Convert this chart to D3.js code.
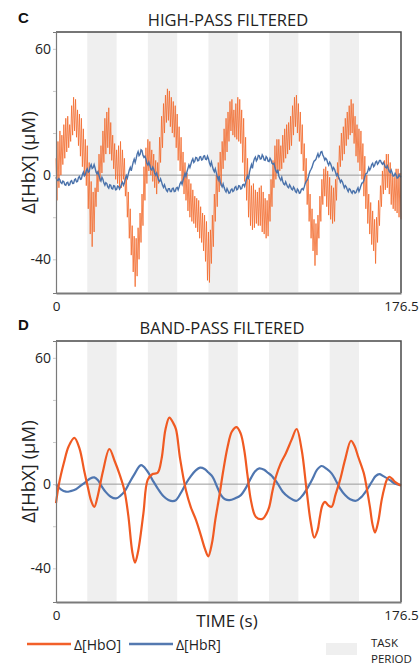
<!DOCTYPE html>
<html><head><meta charset="utf-8">
<script src="https://cdn.jsdelivr.net/npm/d3@7"></script>
<style>
html,body{margin:0;padding:0;background:#fff;}
svg{display:block;font-family:"Open Sans",sans-serif;}
</style></head>
<body><svg id="chart" width="419" height="666"></svg>
<script>
// ---- data ----
const xMax = 176.5;
const taskStart = [16, 47, 78, 109, 140];
const taskEnd   = [31, 62, 93, 124, 155];
const yTicks = [-40, -20, 0, 20, 40, 60];
const yTickLabels = {"-40": "-40", "0": "0", "60": "60"};
const xTickLabels = ["0", "176.5"];

// High-pass HbO: pulse maxima at t = 0,1,...,176 and minima at t = 0.5,1.5,...,176.5
const hpHboPeaks = [8,16,21,19,24,27,28,24,33,37,
  36,31,29,27,22,17,14,6,-3,-8,
  -6,2,10,14,21,27,30,32,25,19,
  15,12,14,16,12,8,0,-8,-16,-24,
  -29,-30,-25,-18,-9,4,13,17,16,12,
  10,7,6,18,28,34,38,41,40,37,
  35,33,29,23,18,11,6,1,-2,-4,
  -7,-10,-11,-12,-15,-18,-19,-22,-27,-26,
  -19,-9,0,6,11,16,22,27,30,35,
  36,31,34,37,36,31,27,18,8,-2,
  -5,-4,-7,-8,-6,-5,-8,-11,-12,-9,
  -2,7,14,17,17,14,19,22,24,25,
  28,33,37,38,34,30,24,15,8,-2,
  -9,-16,-21,-23,-19,-10,-2,3,4,2,
  -1,-5,-6,-2,6,14,20,23,27,30,
  33,36,34,28,24,22,21,15,9,0,
  -9,-13,-17,-21,-20,-12,-5,2,7,10,
  10,6,1,-1,3,3,1];
const hpHboTroughs = [-12,-6,0,5,8,11,13,16,19,21,
  18,14,9,4,0,-5,-16,-28,-34,-27,
  -15,-8,-3,1,6,10,13,10,7,3,
  -2,-4,-7,-6,-2,-10,-20,-30,-38,-46,
  -53,-48,-40,-32,-24,-12,-4,2,0,-3,
  -6,-9,-4,6,13,20,25,26,23,20,
  18,13,7,2,-4,-9,-12,-17,-20,-22,
  -23,-25,-27,-30,-32,-36,-41,-50,-51,-42,
  -34,-22,-15,-8,-5,3,7,11,16,21,
  19,18,17,16,15,6,-3,-12,-20,-24,
  -26,-25,-23,-24,-24,-27,-28,-30,-29,-22,
  -15,-6,-2,1,2,3,6,8,10,12,
  14,19,23,20,16,10,2,-4,-14,-22,
  -30,-36,-43,-38,-30,-22,-14,-10,-15,-19,
  -21,-23,-22,-12,-2,4,7,10,14,17,
  19,20,15,9,6,2,-2,-10,-16,-23,
  -28,-33,-36,-42,-32,-24,-15,-9,-7,-6,
  -9,-14,-16,-17,-18,-20,-21];
// High-pass HbR at t = 0,1,...,176 and at t = 0.5,1.5,...,176.5
const hpHbrWhole = [-1.0,-2.6,-2.2,-4.0,-3.1,-4.8,-3.4,-4.6,-2.6,-3.9,
  -1.8,-3.0,-0.6,-1.8,1.4,0.2,3.0,1.8,5.0,3.6,
  3.4,0.6,-0.2,-2.8,-2.0,-4.8,-4.0,-6.2,-4.8,-6.6,
  -5.2,-6.8,-5.4,-5.8,-3.4,-3.8,-0.2,0.6,3.6,4.2,
  7.6,7.8,11.2,9.8,11.6,8.4,7.6,4.8,4.6,2.4,
  2.8,0.0,-0.8,-3.0,-3.2,-5.8,-6.0,-7.8,-6.4,-7.8,
  -6.2,-7.6,-5.8,-5.6,-3.2,-2.4,0.8,1.6,4.8,5.2,
  7.8,6.6,8.2,7.0,8.8,7.4,9.2,7.4,7.8,4.6,
  4.2,1.6,1.2,-2.2,-3.2,-5.6,-5.8,-8.0,-7.4,-8.4,
  -6.6,-7.4,-5.4,-6.6,-5.2,-6.4,-4.4,-3.6,-0.4,1.4,
  5.0,6.2,8.6,7.6,9.2,7.8,8.8,7.0,8.2,6.4,
  7.2,5.2,3.6,1.2,-0.4,-2.4,-3.0,-4.6,-4.4,-6.0,
  -5.4,-7.0,-6.4,-8.2,-7.2,-8.4,-6.4,-5.6,-3.0,-1.4,
  2.0,3.8,6.6,7.6,10.2,9.4,11.2,8.6,8.0,5.8,
  6.2,4.0,3.6,1.4,0.6,-1.8,-2.4,-4.6,-5.0,-6.8,
  -6.4,-8.0,-7.4,-8.6,-7.0,-7.8,-5.0,-3.6,-0.6,0.8,
  3.6,3.4,5.6,4.6,6.6,5.8,7.0,5.2,5.0,3.4,
  3.0,1.2,1.0,-0.4,0.0,-1.2,-0.6];
const hpHbrHalf = [-2.4,-1.6,-3.6,-2.8,-4.6,-3.6,-4.8,-3.0,-4.0,-2.2,
  -3.2,-1.2,-2.0,0.2,-0.4,2.2,1.4,4.0,3.2,5.0,
  1.4,1.6,-1.8,-1.0,-3.8,-3.6,-5.6,-4.6,-6.4,-5.0,
  -7.0,-5.2,-6.6,-4.2,-4.8,-1.6,-1.4,2.4,2.0,6.2,
  6.0,10.0,9.2,12.0,9.4,9.0,5.6,6.2,2.8,3.8,
  0.8,1.0,-2.4,-1.8,-4.8,-4.6,-7.2,-6.4,-7.8,-6.4,
  -7.8,-6.2,-7.0,-4.0,-4.4,-0.8,-0.6,3.2,3.6,6.8,
  6.0,8.4,6.8,8.6,7.2,9.0,7.6,9.0,5.8,6.2,
  2.6,3.0,-0.8,-0.4,-4.6,-4.2,-7.2,-6.4,-8.6,-7.0,
  -7.8,-5.8,-7.0,-5.0,-6.6,-4.6,-5.4,-1.6,-2.0,3.4,
  3.2,7.8,6.8,9.4,7.6,9.6,7.2,8.8,6.6,8.0,
  5.6,5.6,2.0,2.6,-1.6,-1.0,-4.2,-3.2,-5.6,-4.6,
  -6.6,-5.6,-7.8,-6.6,-8.6,-6.8,-7.0,-4.0,-2.4,0.6,
  2.8,5.4,7.0,9.0,8.6,11.0,9.6,7.2,7.4,4.8,
  5.4,2.4,2.8,-0.2,-0.6,-3.4,-3.2,-6.0,-5.6,-7.8,
  -6.8,-8.6,-7.6,-8.2,-6.0,-6.6,-3.8,-2.6,0.6,1.8,
  2.4,5.0,4.0,6.2,5.2,7.0,5.8,6.0,3.8,4.4,
  1.8,2.4,-0.4,0.8,-1.4,0.2,-1.0];

// Band-pass HbO (time, value)
const bpHboT = [0,1.5,4,6.5,9.4,12,14.5,16.2,18,19.6,21.5,24,27.3,30,32.4,35,37,39,40.4,42,44.7,46.9,49.4,52,54,56,58,60,61.4,63.5,66.5,69,71.6,74,76.3,77.9,79.8,81.5,83.5,85.5,87.8,90,92.4,94.5,96.3,98,99.7,102.3,105.7,107.7,109.1,110.8,112.5,115,117.6,120.5,123.1,125.7,128.2,130.3,132.1,133.8,135,136.3,137.6,139.2,141,143,145.3,148,150.9,152.8,154.6,157.5,159,160.6,161.9,163.2,164.8,166.6,168.2,169.2,170.5,172,173.4,176.5];
const bpHboV = [-9,0,10,18,22,17,6,-1,-8,-10.8,-5,6,16.7,11,5,-3,-15,-32,-37.3,-32,-14,2,4.8,5.4,12,26,31.6,29,26,12,-3,-11,-17,-24,-31,-34.3,-28,-17,-6,6,17.8,25,27.1,24,16.2,4,-7.6,-15.6,-16.5,-14,-10.8,-3,3.5,10,14.7,21,26.2,16.2,-2.9,-18,-25.4,-22,-15.6,-10,-8.4,-10,-10.8,-5,1.9,12,20.6,18,13,5.1,-2,-10.8,-19,-23,-18,-7.6,-1,2,3.5,2.5,1.1,-0.8];
// Band-pass HbR (time, value)
const bpHbrT = [0,2.5,5.1,7.5,10.2,13,15.3,17.5,19.6,21.5,23,25.5,28,30.7,33,35,37.5,40,43.5,46.5,49.4,52,55,57.5,59.7,61.4,64,66.5,69,71.5,73.7,76,78,80.1,82.3,84.4,86.5,88.7,91.5,94.6,97,99.5,101.8,104,106.5,108.5,110,113,116,119,121,123.1,126,129,131.5,133.5,135.9,138.5,141,143,145.3,148,150.5,153.5,156,158.9,161.5,163.5,165.4,167.5,170.8,173.5,176.5];
const bpHbrV = [0,-2.5,-3.6,-3.3,-2.4,-0.5,1.1,2.7,3.2,1.8,-0.5,-3.8,-6,-6.8,-5.5,-3.6,0.5,4.5,9,6.5,1.9,-2,-5.8,-7.5,-8.1,-7.6,-4,0.3,3.8,6.5,7.8,7.2,5.5,3.5,-1,-5.2,-7.2,-7.6,-6.8,-5.2,-2,2.5,6,7.5,6.8,5.3,4.3,0.8,-3.6,-6.2,-7.3,-7.9,-5.5,-1.3,3,6.8,8.6,7.2,5.1,2,-2,-5.3,-7.2,-7.9,-6.3,-2.9,1,3.8,4.8,3.8,1.9,0.2,-0.5];

const legendItems = [{label:"Δ[HbO]", color:"#f2602a"}, {label:"Δ[HbR]", color:"#5479b0"}];

// ---- build series ----
const hpHbo = [];
hpHboPeaks.forEach((v,i)=>{
  hpHbo.push([i, v]);
  if (i < hpHboTroughs.length) hpHbo.push([i+0.5, hpHboTroughs[i]]);
});
const hpHbrPts = [];
hpHbrWhole.forEach((v,i)=>{
  hpHbrPts.push([i, v]);
  if (i < hpHbrHalf.length) hpHbrPts.push([i+0.5, hpHbrHalf[i]]);
});
const bpHbo = bpHboT.map((t,i)=>[t, bpHboV[i]]);
const bpHbr = bpHbrT.map((t,i)=>[t, bpHbrV[i]]);

const svg = d3.select("#chart");
const x = d3.scaleLinear().domain([0, xMax]).range([56, 401]);

function panel(top, bottom, letter, letterY, title, titleX, titleY, hboData, hbrData, smooth){
  const y = d3.scaleLinear().domain([-56, 68]).range([bottom, top]);
  const g = svg.append("g");
  g.selectAll("rect.task").data(taskStart).enter().append("rect")
    .attr("x", (d)=>x(d)).attr("width",(d,i)=>x(taskEnd[i])-x(d))
    .attr("y", top).attr("height", bottom-top-1).attr("fill","#efefef");
  g.append("line").attr("x1",x(0)).attr("x2",x(xMax)).attr("y1",y(0)).attr("y2",y(0))
    .attr("stroke","#9a9a9a").attr("stroke-width",1);
  const line = d3.line().x(d=>x(d[0])).y(d=>y(d[1]));
  const sline = d3.line().x(d=>x(d[0])).y(d=>y(d[1])).curve(d3.curveCatmullRom.alpha(0.5));
  if (smooth){
    g.append("path").datum(hbrData).attr("d", sline).attr("fill","none")
      .attr("stroke","#4f76b0").attr("stroke-width",2.2);
    g.append("path").datum(hboData).attr("d", sline).attr("fill","none")
      .attr("stroke","#f05a22").attr("stroke-width",2.2);
  } else {
    g.append("path").datum(hboData).attr("d", line).attr("fill","none")
      .attr("stroke","#f36a2c").attr("stroke-width",0.9).attr("stroke-opacity",0.9);
    g.append("path").datum(hbrData).attr("d", line).attr("fill","none")
      .attr("stroke","#4a72ab").attr("stroke-width",1.4);
  }
  g.append("path").attr("d", `M${x(0)},${top}H${x(xMax)}V${bottom}`)
    .attr("fill","none").attr("stroke","#4a4a4a").attr("stroke-width",1.5);
  const ya = d3.axisLeft(y).tickValues(yTicks).tickSize(3).tickPadding(2)
    .tickFormat(d=>yTickLabels[String(d)] || "");
  const yg = g.append("g").attr("transform",`translate(${x(0)},0)`).call(ya);
  yg.select(".domain").attr("stroke","#7a7a7a").attr("stroke-width",1.2);
  yg.selectAll(".tick line").attr("stroke","#c8c8c8");
  yg.selectAll("text").attr("font-size",14).attr("fill","#222").attr("font-family","'Open Sans',sans-serif");
  const xa = d3.axisBottom(x).tickValues([0, xMax]).tickSize(0).tickPadding(8)
    .tickFormat((d,i)=>xTickLabels[i]);
  const xg = g.append("g").attr("transform",`translate(0,${bottom})`).call(xa);
  xg.select(".domain").attr("stroke","#7a7a7a").attr("stroke-width",2);
  xg.selectAll("text").attr("font-size",13.5).attr("fill","#222").attr("font-family","'Open Sans',sans-serif");
  svg.append("text").attr("x",18).attr("y",letterY).text(letter)
    .attr("font-family","Arial, 'Liberation Sans', sans-serif").attr("font-weight","bold").attr("font-size",15).attr("fill","#111");
  svg.append("text").attr("x",titleX).attr("y",titleY).attr("text-anchor","middle").text(title)
    .attr("font-size",16.5).attr("fill","#222");
  svg.append("text").attr("transform",`translate(35,${(top+bottom)/2}) rotate(-90)`)
    .attr("text-anchor","middle").text("Δ[HbX] (μM)").attr("font-size",18.5).attr("fill","#222");
}

panel(32, 293, "C", 23, "HIGH-PASS FILTERED", 228, 25.5, hpHbo, hpHbrPts, false);
panel(341, 602, "D", 330, "BAND-PASS FILTERED", 222, 334, bpHbo, bpHbr, true);

svg.append("text").attr("x",227).attr("y",627).attr("text-anchor","middle").text("TIME (s)")
  .attr("font-size",17).attr("fill","#222");

const lg = svg.append("g");
const lx = [27, 129];
legendItems.forEach((it,i)=>{
  lg.append("line").attr("x1",lx[i]).attr("x2",lx[i]+44).attr("y1",644).attr("y2",644)
    .attr("stroke",it.color).attr("stroke-width",2.5);
  lg.append("text").attr("x",lx[i]+47).attr("y",649.5).text(it.label).attr("font-size",14).attr("fill","#222");
});
lg.append("rect").attr("x",326).attr("y",643).attr("width",31).attr("height",12).attr("fill","#efefef");
lg.append("text").attr("x",371).attr("y",646.5).text("TASK").attr("font-size",11.5).attr("fill","#222");
lg.append("text").attr("x",371).attr("y",662.5).text("PERIOD").attr("font-size",11.5).attr("fill","#222");
</script></body></html>
